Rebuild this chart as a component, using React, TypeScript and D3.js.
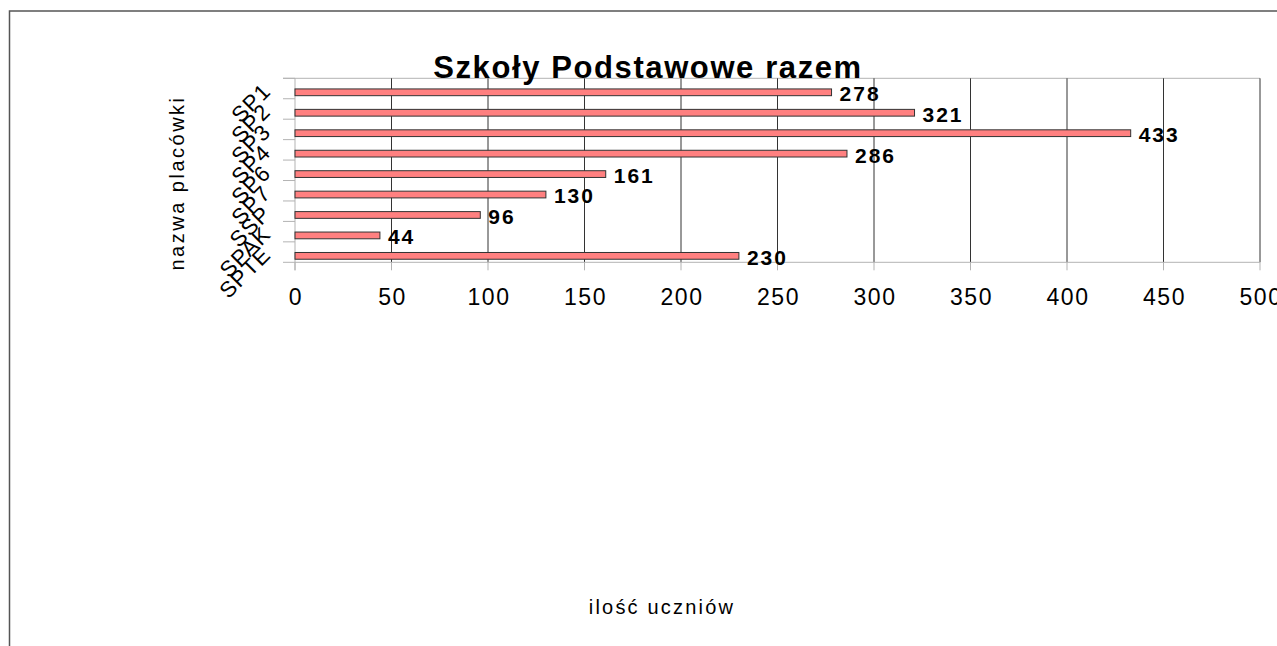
import React from "react";
import * as d3 from "d3";

const categories = ["SP1", "SP2", "SP3", "SP4", "SP6", "SP7", "SSP", "SPAK", "SPTE"];
const values = [278, 321, 433, 286, 161, 130, 96, 44, 230];
const xTicks = [0, 50, 100, 150, 200, 250, 300, 350, 400, 450, 500];
const title = "Szkoły Podstawowe razem";
const xTitle = "ilość uczniów";
const yTitle = "nazwa placówki";

export default function App() {
  const W = 1277, H = 646;
  const left = 295, right = 1260, top = 78.3, bottom = 262.3;
  const x = d3.scaleLinear().domain([0, 500]).range([left, right]);
  const y = d3.scaleBand<string>().domain(categories).range([top, bottom]).padding(0);
  const bw = y.bandwidth();
  const font = "'Liberation Sans', Arial, sans-serif";
  const gridColor = "#333";
  const axisColor = "#b3b3b3";

  return (
    <svg width={W} height={H} style={{ position: "absolute", left: 0, top: 0, display: "block" }} fontFamily={font}>
      <rect x={0} y={0} width={W} height={H} fill="#fff" />
      <rect x={9.5} y={11} width={1400} height={800} fill="none" stroke="#555" strokeWidth={1.5} />
      <line x1={283} x2={right} y1={top} y2={top} stroke={axisColor} />
      {xTicks.slice(1).map((t) => (
        <line key={"g" + t} x1={x(t)} x2={x(t)} y1={top} y2={bottom} stroke={gridColor} strokeWidth={1} />
      ))}
      {xTicks.map((t) => (
        <line key={"xt" + t} x1={x(t)} x2={x(t)} y1={bottom} y2={bottom + 8} stroke={axisColor} />
      ))}
      {[...categories.map((c) => y(c) as number), bottom].map((v, i) => (
        <line key={"yt" + i} x1={283} x2={left} y1={v} y2={v} stroke={axisColor} />
      ))}
      <line x1={left} x2={left} y1={top} y2={bottom + 8} stroke={axisColor} />
      <line x1={left} x2={right} y1={bottom} y2={bottom} stroke={axisColor} />
      {categories.map((c, i) => (
        <rect
          key={"b" + c}
          x={x(0)}
          y={(y(c) as number) + bw * 0.52}
          width={x(values[i]) - x(0)}
          height={bw * 0.33}
          fill="#ff8080"
          stroke="#333"
          strokeWidth={1}
        />
      ))}
      {categories.map((c, i) => (
        <text
          key={"v" + c}
          x={x(values[i]) + 8}
          y={(y(c) as number) + bw + 2.5}
          fontSize={21}
          fontWeight="bold"
          letterSpacing={2}
          fill="#000"
        >
          {values[i]}
        </text>
      ))}
      {xTicks.map((t) => (
        <text key={"xl" + t} x={x(t) + 1} y={305} fontSize={23} letterSpacing={1.5} textAnchor="middle" fill="#000">
          {t}
        </text>
      ))}
      {categories.map((c) => {
        const cy = (y(c) as number) + bw / 2 + 4;
        const cx = 272;
        return (
          <text
            key={"c" + c}
            x={cx}
            y={cy}
            fontSize={22}
            letterSpacing={1}
            textAnchor="end"
            transform={`rotate(-45 ${cx} ${cy})`}
            fill="#000"
          >
            {c}
          </text>
        );
      })}
      <text x={648} y={78} fontSize={31} fontWeight="bold" letterSpacing={1.6} textAnchor="middle" fill="#000">
        {title}
      </text>
      <text x={662} y={614} fontSize={20} letterSpacing={2.2} textAnchor="middle" fill="#000">
        {xTitle}
      </text>
      <text
        x={184}
        y={183}
        fontSize={20}
        letterSpacing={2.5}
        textAnchor="middle"
        transform="rotate(-90 184 183)"
        fill="#000"
      >
        {yTitle}
      </text>
    </svg>
  );
}
